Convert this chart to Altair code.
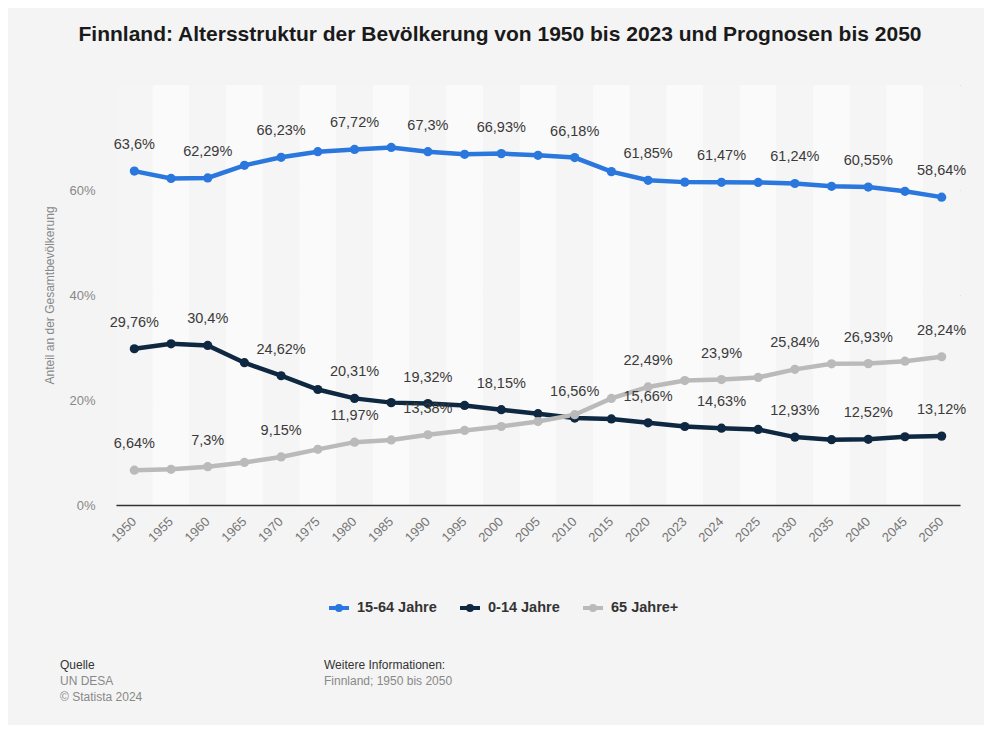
import altair as alt
import pandas as pd

years = ["1950", "1955", "1960", "1965", "1970", "1975", "1980", "1985", "1990", "1995",
         "2000", "2005", "2010", "2015", "2020", "2023", "2024", "2025", "2030", "2035",
         "2040", "2045", "2050"]
series_names = ["15-64 Jahre", "0-14 Jahre", "65 Jahre+"]
series_colors = ["#2a77dd", "#0e2841", "#bababa"]

v_1564 = [63.6, 62.2, 62.29, 64.7, 66.23, 67.3, 67.72, 68.1, 67.3, 66.8, 66.93, 66.6,
          66.18, 63.5, 61.85, 61.5, 61.47, 61.45, 61.24, 60.7, 60.55, 59.75, 58.64]
v_014 = [29.76, 30.7, 30.4, 27.1, 24.62, 22.0, 20.31, 19.5, 19.32, 18.96, 18.15, 17.4,
         16.56, 16.4, 15.66, 14.95, 14.63, 14.4, 12.93, 12.45, 12.52, 13.0, 13.12]
v_65 = [6.64, 6.8, 7.3, 8.1, 9.15, 10.6, 11.97, 12.4, 13.38, 14.2, 14.95, 15.9,
        17.2, 20.3, 22.49, 23.7, 23.9, 24.3, 25.84, 26.9, 26.93, 27.4, 28.24]

# which points carry a value label (every second point; two hidden on 65+)
hidden_65 = ["2000", "2010"]

title_text = "Finnland: Altersstruktur der Bevölkerung von 1950 bis 2023 und Prognosen bis 2050"
y_title = "Anteil an der Gesamtbevölkerung"

FONT = "Liberation Sans"
W, H = 844, 420

rows = []
for name, vals in zip(series_names, [v_1564, v_014, v_65]):
    for i, (yr, v) in enumerate(zip(years, vals)):
        show = (i % 2 == 0) and not (name == "65 Jahre+" and yr in hidden_65)
        lab = (("%g" % v).replace(".", ",") + "%") if show else ""
        rows.append({"Jahr": yr, "Gruppe": name, "Wert": v, "Label": lab})
df = pd.DataFrame(rows)

band_colors = ["#f5f5f5", "#fafafa"]
bands = pd.DataFrame({"Jahr": years, "fill": [band_colors[i % 2] for i in range(len(years))]})

xscale = alt.Scale(domain=years, paddingInner=0, paddingOuter=0)
yscale = alt.Scale(domain=[0, 80], nice=False)
cscale = alt.Scale(domain=series_names, range=series_colors)

x_axis = alt.Axis(title=None, labelAngle=-45, labelAlign="right", labelBaseline="middle",
                  labelFontSize=13, labelColor="#777777", labelFont=FONT,
                  ticks=False, labelPadding=14, domainColor="#333333",
                  domainWidth=1.5, grid=False)
x_enc = alt.X("Jahr:N", scale=xscale, sort=years, axis=x_axis)
y_enc = alt.Y("Wert:Q", scale=yscale,
              axis=alt.Axis(values=[0, 20, 40, 60, 80], title=y_title, titleFont=FONT,
                            titleFontSize=12, titleFontWeight="normal", titleColor="#888888",
                            titlePadding=12, labelFont=FONT, labelFontSize=13, labelColor="#888888",
                            labelExpr="datum.value == 80 ? '' : datum.value + '%'",
                            ticks=False, labelPadding=21, domain=False, grid=True,
                            gridColor="#c8c8c8", gridDash=[1, 2], gridWidth=1))

band_layer = alt.Chart(bands).mark_rect().encode(
    x=x_enc,
    y=alt.value(0), y2=alt.value(H),
    fill=alt.Fill("fill:N", scale=None),
)

legend_symbol = "M-1,0L1,0M-0.2,0a0.2,0.2 0 1,0 0.4,0a0.2,0.2 0 1,0 -0.4,0"

line_layer = alt.Chart(df).mark_line(strokeWidth=4.5).encode(
    x=x_enc,
    y=y_enc,
    color=alt.Color("Gruppe:N", scale=cscale, sort=series_names,
                    legend=alt.Legend(title=None, orient="none", direction="horizontal",
                                      legendX=211, legendY=511, symbolType=legend_symbol,
                                      symbolSize=400, symbolStrokeWidth=4, labelFont=FONT,
                                      labelFontSize=14.5, labelFontWeight="bold",
                                      labelColor="#333333", columnPadding=15, labelOffset=6)),
)

point_layer = alt.Chart(df).mark_circle(size=85, opacity=1).encode(
    x=x_enc,
    y=y_enc,
    color=alt.Color("Gruppe:N", scale=cscale, sort=series_names, legend=None),
)

label_layer = alt.Chart(df).mark_text(font=FONT, fontSize=14.5, color="#3a3a3a", dy=-26,
                                      baseline="middle").encode(
    x=x_enc,
    y=y_enc,
    text="Label:N",
)

one = pd.DataFrame({"k": [0]})


def txt(s, x, y, size=12, color="#888888", weight="normal", align="left"):
    return alt.Chart(one).mark_text(text=s, font=FONT, fontSize=size, color=color,
                                    fontWeight=weight, align=align, baseline="middle").encode(
        x=alt.value(x), y=alt.value(y))


texts = [
    txt(title_text, 384, -50, size=21, color="#1a1a1a", weight="bold", align="center"),
    txt("Quelle", -56, 580, color="#333333"),
    txt("UN DESA", -56, 596),
    txt("© Statista 2024", -56, 612),
    txt("Weitere Informationen:", 208, 580, color="#333333"),
    txt("Finnland; 1950 bis 2050", 208, 596),
]

chart = alt.layer(band_layer, line_layer, point_layer, label_layer, *texts).properties(
    width=W, height=H,
    autosize=alt.AutoSizeParams(type="none"),
    padding={"left": 108, "top": 77, "right": 24, "bottom": 220},
).configure(background="#f4f4f4").configure_view(stroke=None)

chart.save("out.html", embed_options={"renderer": "svg", "actions": False})
